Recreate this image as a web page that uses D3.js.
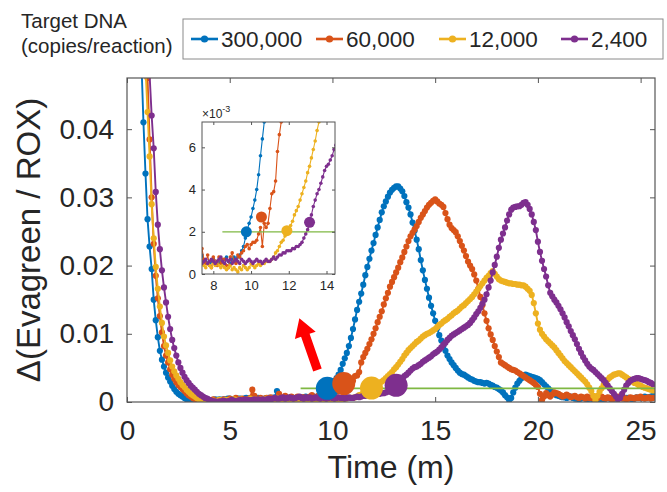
<!DOCTYPE html>
<html>
<head>
<meta charset="utf-8">
<script src="https://cdn.jsdelivr.net/npm/d3@7"></script>
<style>
  body { margin: 0; background: #fff; }
  svg text { font-family: "Liberation Sans", Arial, Helvetica, sans-serif; fill: #262626; }
</style>
</head>
<body>
<svg id="chart" width="667" height="492"></svg>
<script>
// Sampling grid: one reading every 0.1 min, starting at 0.6 min
const timeStart = 0.6;
const timeStep = 0.1;
// Δ(Evagreen/ROX) readings, in units of 1e-4, 20 readings (2 min) per row
const valueUnit = 1e-4;

const copies300000 = [
  640, 500, 410, 335, 268, 228, 195, 150, 120, 95, 75, 62, 52, 43, 36, 30, 24, 19, 15, 12,
  10, 8, 6, 4, 3, 2, 1, 1, 0, 1, 1, 2, 2, 3, 3, 2, 3, 4, 3, 4,
  3, 4, 4, 5, 5, 4, 3, 4, 5, 5, 4, 5, 6, 5, 4, 5, 5, 6, 6, 5,
  4, 5, 5, 6, 5, 6, 7, 16, 9, 6, 6, 5, 5, 6, 7, 6, 4, 5, 6, 5,
  7, 8, 6, 5, 7, 8, 7, 8, 9, 11, 13, 17, 21, 24, 27, 31, 35, 40, 47, 56,
  64, 72, 82, 94, 107, 121, 135, 147, 159, 172, 186, 198, 210, 222, 233, 245, 256, 267, 278, 287,
  294, 301, 307, 311, 314, 316, 316, 313, 309, 302, 293, 285, 275, 263, 251, 238, 224, 208, 193, 179,
  166, 153, 141, 130, 119, 108, 98, 90, 82, 75, 68, 63, 58, 54, 50, 46, 43, 41, 40, 38,
  36, 34, 33, 31, 30, 29, 29, 28, 27, 28, 27, 25, 24, 22, 21, 19, 17, 14, 10, 7,
  3, 6, 14, 21, 27, 31, 35, 38, 40, 39, 38, 37, 36, 35, 34, 32, 29, 26, 23, 20,
  17, 14, 12, 10, 9, 8, 7, 7, 6, 7, 8, 6, 5, 5, 4, 5, 6, 5, 4, 5,
  5, 4, 3, 4, 5, 4, 4, 5, 6, 5, 4, 5, 5, 6, 7, 6, 5, 6, 6, 5,
  4, 5, 7, 6, 6, 7, 8, 7, 7, 8, 9
];

const copies60000 = [
  900, 750, 620, 540, 475, 385, 300, 232, 185, 152, 126, 102, 82, 68, 58, 48, 40, 34, 29, 25,
  22, 19, 16, 13, 10, 8, 6, 4, 3, 2, 1, 0, 2, 1, 3, 2, 4, 2, 1, 3,
  2, 4, 3, 2, 5, 3, 2, 6, 4, 3, 5, 3, 4, 3, 6, 18, 9, 5, 4, 6,
  3, 5, 6, 4, 7, 5, 4, 6, 12, 7, 5, 9, 4, 3, 8, 6, 4, 8, 5, 7,
  7, 4, 3, 8, 10, 6, 5, 9, 8, 10, 11, 13, 14, 12, 14, 15, 15, 16, 19, 22,
  13, 24, 22, 24, 31, 38, 39, 44, 58, 66, 72, 78, 85, 92, 100, 108, 117, 125, 133, 143,
  152, 160, 169, 176, 183, 190, 197, 205, 212, 220, 228, 236, 243, 248, 253, 258, 264, 270, 275, 280,
  285, 289, 292, 295, 297, 294, 291, 289, 286, 277, 268, 260, 255, 252, 249, 243, 236, 229, 222, 214,
  206, 200, 195, 187, 178, 166, 154, 142, 130, 119, 108, 99, 91, 82, 74, 66, 58, 56, 54, 52,
  50, 48, 47, 46, 44, 42, 40, 38, 36, 34, 32, 30, 28, 25, 22, 12, 3, 8, 13, 10,
  8, 11, 14, 13, 12, 10, 8, 9, 11, 9, 7, 8, 9, 7, 6, 8, 7, 5, 8, 6,
  7, 5, 4, 6, 7, 8, 6, 5, 7, 6, 4, 5, 6, 8, 7, 5, 6, 4, 5, 7,
  6, 5, 7, 6, 8, 6, 5, 6, 7, 5, 6
];

const copies12000 = [
  850, 700, 580, 490, 425, 360, 290, 240, 198, 166, 140, 116, 96, 83, 72, 61, 52, 45, 39, 34,
  29, 25, 22, 18, 15, 12, 10, 8, 6, 4, 3, 2, 1, 0, 1, 1, 2, 1, 2, 3,
  1, 2, 3, 2, 3, 2, 4, 3, 2, 4, 3, 2, 3, 4, 5, 3, 4, 3, 2, 4,
  3, 4, 5, 3, 4, 5, 4, 6, 5, 4, 3, 5, 4, 3, 5, 4, 6, 4, 3, 4,
  3, 2, 3, 4, 2, 3, 2, 1, 3, 2, 4, 3, 2, 3, 5, 4, 3, 4, 5, 4,
  5, 5, 6, 6, 6, 7, 8, 10, 11, 13, 15, 16, 18, 20, 21, 23, 25, 28, 30, 32,
  35, 38, 41, 44, 48, 51, 55, 59, 63, 68, 72, 76, 79, 82, 85, 88, 90, 93, 96, 98,
  100, 101, 103, 105, 107, 110, 113, 115, 118, 120, 122, 125, 127, 130, 132, 134, 137, 140, 142, 145,
  148, 151, 154, 158, 162, 166, 170, 174, 178, 182, 185, 189, 192, 188, 184, 180, 178, 177, 176, 175,
  174, 174, 173, 173, 172, 172, 171, 171, 169, 166, 163, 157, 145, 130, 115, 106, 100, 96, 92, 89,
  86, 83, 80, 76, 72, 68, 64, 60, 57, 54, 51, 48, 45, 42, 39, 36, 33, 30, 26, 21,
  16, 9, 3, 9, 15, 20, 25, 29, 33, 36, 38, 40, 41, 42, 42, 40, 38, 36, 34, 32,
  30, 28, 27, 25, 24, 22, 21, 20, 19, 18, 17
];

const copies2400 = [
  1000, 850, 720, 620, 550, 480, 420, 372, 308, 260, 224, 193, 168, 146, 125, 107, 91, 79, 68, 58,
  50, 43, 37, 32, 28, 24, 21, 18, 15, 12, 10, 8, 6, 5, 3, 2, 1, 1, 0, 1,
  1, 2, 1, 1, 2, 3, 2, 1, 2, 3, 2, 3, 4, 3, 2, 3, 4, 3, 4, 3,
  4, 3, 4, 5, 4, 5, 6, 5, 5, 6, 7, 5, 6, 7, 6, 5, 6, 7, 8, 6,
  5, 7, 6, 7, 5, 6, 7, 6, 5, 7, 6, 5, 6, 7, 6, 5, 6, 7, 6, 6,
  5, 6, 7, 6, 6, 7, 8, 7, 8, 9, 9, 10, 10, 11, 11, 11, 12, 12, 13, 13,
  14, 15, 17, 19, 21, 24, 28, 32, 35, 38, 40, 43, 46, 49, 51, 52, 54, 56, 59, 61,
  63, 65, 67, 70, 72, 74, 77, 80, 84, 87, 91, 94, 97, 99, 101, 103, 105, 107, 109, 111,
  113, 116, 120, 124, 129, 133, 138, 144, 150, 158, 168, 178, 190, 201, 213, 226, 238, 247, 256, 266,
  275, 282, 285, 286, 287, 287, 289, 292, 293, 289, 283, 275, 264, 252, 235, 220, 207, 195, 184, 171,
  160, 155, 150, 146, 141, 136, 130, 124, 117, 111, 104, 98, 92, 85, 78, 72, 66, 61, 56, 52,
  49, 47, 44, 41, 38, 35, 32, 28, 24, 20, 16, 12, 8, 4, 6, 12, 18, 24, 28, 31,
  33, 34, 35, 35, 34, 33, 32, 31, 29, 28, 26
];

const seriesData = [copies300000, copies60000, copies12000, copies2400];
const seriesLabels = ["300,000", "60,000", "12,000", "2,400"];
const seriesColors = ["#0072BD", "#D95319", "#EDB120", "#7E2F8E"];

// threshold-crossing markers (time in min, value)
const crossTimes = [9.75, 10.55, 11.9, 13.1];
const crossValues = [0.0020, 0.0027, 0.00205, 0.00245];
const thresholdValue = 0.002;
const thresholdStart = 8.45;

const xTicks = [0, 5, 10, 15, 20, 25];
const xTickLabels = ["0", "5", "10", "15", "20", "25"];
const yTicks = [0, 0.01, 0.02, 0.03, 0.04];
const yTickLabels = ["0", "0.01", "0.02", "0.03", "0.04"];
const insetXTicks = [8, 10, 12, 14];
const insetXTickLabels = ["8", "10", "12", "14"];
const insetYTicks = [0, 0.002, 0.004, 0.006];
const insetYTickLabels = ["0", "2", "4", "6"];

// annotation arrow pointing from the crossings toward the zoomed panel
const arrowFrom = [9.27, 0.0047];
const arrowTo = [8.39, 0.01226];

const axisColor = "#555";
const svg = d3.select("#chart");

const series = seriesLabels.map((label, i) => ({
  label,
  color: seriesColors[i],
  points: seriesData[i].map((v, j) => ({ t: +(timeStart + j * timeStep).toFixed(2), v: v * valueUnit }))
}));

// ---------- main axes ----------
const M = { left: 127, top: 78, right: 655, bottom: 402 };
const x = d3.scaleLinear().domain([0, 25.7]).range([M.left, M.right]);
const y = d3.scaleLinear().domain([0, 0.0475]).range([M.bottom, M.top]);

svg.append("clipPath").attr("id", "mainClip")
  .append("rect").attr("x", M.left).attr("y", M.top)
  .attr("width", M.right - M.left).attr("height", M.bottom - M.top);

function styleAxis(g, fontSize) {
  g.select(".domain").remove();
  g.selectAll(".tick line").attr("stroke", axisColor).attr("stroke-width", 1);
  g.selectAll(".tick text").attr("font-size", fontSize).attr("fill", "#262626")
    .style("font-family", '"Liberation Sans", Arial, sans-serif');
}

svg.append("g").attr("transform", `translate(0,${M.bottom})`)
  .call(d3.axisBottom(x).tickValues(xTicks).tickFormat((d, i) => xTickLabels[i])
    .tickSizeInner(-5).tickSizeOuter(0).tickPadding(18))
  .call(g => styleAxis(g, 28));
svg.append("g").attr("transform", `translate(0,${M.top})`)
  .call(d3.axisTop(x).tickValues(xTicks).tickFormat("").tickSizeInner(-5).tickSizeOuter(0))
  .call(g => styleAxis(g, 28));
svg.append("g").attr("transform", `translate(${M.left},0)`)
  .call(d3.axisLeft(y).tickValues(yTicks).tickFormat((d, i) => yTickLabels[i])
    .tickSizeInner(-5).tickSizeOuter(0).tickPadding(13))
  .call(g => styleAxis(g, 28));
svg.append("g").attr("transform", `translate(${M.right},0)`)
  .call(d3.axisRight(y).tickValues(yTicks).tickFormat("").tickSizeInner(-5).tickSizeOuter(0))
  .call(g => styleAxis(g, 28));

const plot = svg.append("g").attr("clip-path", "url(#mainClip)");
const line = d3.line().x(d => x(d.t)).y(d => y(d.v));

series.forEach(s => {
  const g = plot.append("g");
  g.append("path").datum(s.points).attr("d", line)
    .attr("fill", "none").attr("stroke", s.color).attr("stroke-width", 1.9);
  g.selectAll("circle").data(s.points).join("circle")
    .attr("cx", d => x(d.t)).attr("cy", d => y(d.v)).attr("r", 3.1)
    .attr("fill", s.color);
});

plot.append("line")
  .attr("x1", x(thresholdStart)).attr("x2", x(25.7))
  .attr("y1", y(thresholdValue)).attr("y2", y(thresholdValue))
  .attr("stroke", "#7fb843").attr("stroke-width", 1.7);

plot.selectAll(".cross").data(crossTimes).join("circle")
  .attr("cx", d => x(d)).attr("cy", (d, i) => y(crossValues[i])).attr("r", 11.5)
  .attr("fill", (d, i) => seriesColors[i]);

svg.append("rect").attr("x", M.left).attr("y", M.top)
  .attr("width", M.right - M.left).attr("height", M.bottom - M.top)
  .attr("fill", "none").attr("stroke", axisColor).attr("stroke-width", 1.2);

// red arrow
(() => {
  const x0 = x(arrowFrom[0]), y0 = y(arrowFrom[1]);
  const x1 = x(arrowTo[0]), y1 = y(arrowTo[1]);
  const dx = x1 - x0, dy = y1 - y0, L = Math.hypot(dx, dy);
  const ux = dx / L, uy = dy / L, nx = -uy, ny = ux;
  const shaft = 4.5, head = 11, headLen = 18;
  const bx = x1 - ux * headLen, by = y1 - uy * headLen;
  const pts = [
    [x0 + nx * shaft, y0 + ny * shaft], [bx + nx * shaft, by + ny * shaft],
    [bx + nx * head, by + ny * head], [x1, y1],
    [bx - nx * head, by - ny * head], [bx - nx * shaft, by - ny * shaft],
    [x0 - nx * shaft, y0 - ny * shaft]
  ];
  svg.append("polygon").attr("points", pts.map(p => p.join(",")).join(" ")).attr("fill", "#ff0000");
})();

// axis titles
svg.append("text").attr("x", (M.left + M.right) / 2).attr("y", 478)
  .attr("text-anchor", "middle").attr("font-size", 32).text("Time (m)");
svg.append("text").attr("transform", `translate(40,${(M.top + M.bottom) / 2}) rotate(-90)`)
  .attr("text-anchor", "middle").attr("font-size", 33).text("Δ(Evagreen / ROX)");

// ---------- inset ----------
const I = { left: 202, top: 122, right: 335, bottom: 274 };
const xi = d3.scaleLinear().domain([7.4, 14.45]).range([I.left, I.right]);
const yi = d3.scaleLinear().domain([0, 0.0072]).range([I.bottom, I.top]);

svg.append("rect").attr("x", I.left).attr("y", I.top)
  .attr("width", I.right - I.left).attr("height", I.bottom - I.top).attr("fill", "#fff");
svg.append("clipPath").attr("id", "insetClip")
  .append("rect").attr("x", I.left).attr("y", I.top)
  .attr("width", I.right - I.left).attr("height", I.bottom - I.top);

const inset = svg.append("g").attr("clip-path", "url(#insetClip)");
const lineI = d3.line().x(d => xi(d.t)).y(d => yi(d.v));
series.forEach(s => {
  const pts = s.points.filter(d => d.t >= 7.2 && d.t <= 14.7);
  const g = inset.append("g");
  g.append("path").datum(pts).attr("d", lineI)
    .attr("fill", "none").attr("stroke", s.color).attr("stroke-width", 1.1);
  g.selectAll("circle").data(pts).join("circle")
    .attr("cx", d => xi(d.t)).attr("cy", d => yi(d.v)).attr("r", 1.8)
    .attr("fill", s.color);
});
inset.append("line")
  .attr("x1", xi(8.48)).attr("x2", xi(14.45))
  .attr("y1", yi(thresholdValue)).attr("y2", yi(thresholdValue))
  .attr("stroke", "#7fb843").attr("stroke-width", 1.3);
inset.selectAll(".icross").data(crossTimes).join("circle")
  .attr("cx", d => xi(d)).attr("cy", (d, i) => yi(crossValues[i])).attr("r", 5.5)
  .attr("fill", (d, i) => seriesColors[i]);

svg.append("g").attr("transform", `translate(0,${I.bottom})`)
  .call(d3.axisBottom(xi).tickValues(insetXTicks).tickFormat((d, i) => insetXTickLabels[i])
    .tickSizeInner(-3).tickSizeOuter(0).tickPadding(7))
  .call(g => styleAxis(g, 13));
svg.append("g").attr("transform", `translate(0,${I.top})`)
  .call(d3.axisTop(xi).tickValues(insetXTicks).tickFormat("").tickSizeInner(-3).tickSizeOuter(0))
  .call(g => styleAxis(g, 13));
svg.append("g").attr("transform", `translate(${I.left},0)`)
  .call(d3.axisLeft(yi).tickValues(insetYTicks).tickFormat((d, i) => insetYTickLabels[i])
    .tickSizeInner(-3).tickSizeOuter(0).tickPadding(6))
  .call(g => styleAxis(g, 13));
svg.append("g").attr("transform", `translate(${I.right},0)`)
  .call(d3.axisRight(yi).tickValues(insetYTicks).tickFormat("").tickSizeInner(-3).tickSizeOuter(0))
  .call(g => styleAxis(g, 13));
svg.append("rect").attr("x", I.left).attr("y", I.top)
  .attr("width", I.right - I.left).attr("height", I.bottom - I.top)
  .attr("fill", "none").attr("stroke", axisColor).attr("stroke-width", 1);

const expo = svg.append("text").attr("x", I.left).attr("y", I.top - 4).attr("font-size", 13);
expo.append("tspan").attr("font-size", 12).text("×10");
expo.append("tspan").attr("font-size", 9).attr("dy", -6).text("-3");

// ---------- legend ----------
svg.append("text").attr("x", 21).attr("y", 28).attr("font-size", 20.5).text("Target DNA");
svg.append("text").attr("x", 21).attr("y", 53).attr("font-size", 20.5).text("(copies/reaction)");

const legendBox = { x: 183, y: 19, w: 480, h: 40 };
svg.append("rect").attr("x", legendBox.x).attr("y", legendBox.y)
  .attr("width", legendBox.w).attr("height", legendBox.h)
  .attr("fill", "#fff").attr("stroke", "#8a8a8a").attr("stroke-width", 1);
const legendX = [191, 316, 439, 561];
const legendY = legendBox.y + legendBox.h / 2;
series.forEach((s, i) => {
  const g = svg.append("g").attr("transform", `translate(${legendX[i]},${legendY})`);
  g.append("line").attr("x1", 0).attr("x2", 27).attr("stroke", s.color).attr("stroke-width", 2.6);
  g.append("circle").attr("cx", 13.5).attr("r", 3.6).attr("fill", s.color);
  g.append("text").attr("x", 30).attr("y", 8).attr("font-size", 22.5).text(s.label);
});
</script>
</body>
</html>
